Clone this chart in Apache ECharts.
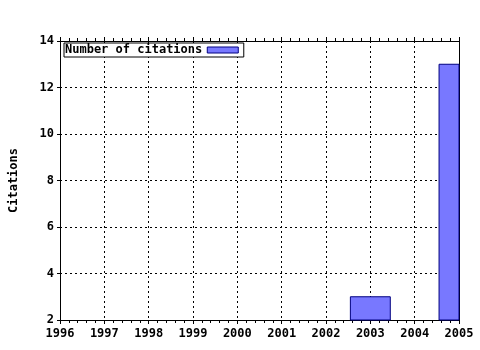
<!DOCTYPE html>
<html><head><meta charset="utf-8">
<script src="https://cdn.jsdelivr.net/npm/echarts@6/dist/echarts.min.js"></script>
<style>html,body{margin:0;padding:0;background:#fff}#c{width:480px;height:350px}</style>
</head><body><div id="c"></div>
<script>
const years = [2003, 2005];
const citations = [3, 13];
const seriesName = 'Number of citations';
const yAxisName = 'Citations';
const font = 'DejaVu Sans Mono';
const barColor = '#7878ff';
const barBorder = '#000080';

const chart = echarts.init(document.getElementById('c'), null, {renderer: 'canvas'});
const xCommon = {
  type: 'value', min: 1996, max: 2005, interval: 1,
  axisLine: {lineStyle: {color: '#000', width: 1}},
  axisTick: {show: true, length: 4, lineStyle: {color: '#000'}},
  minorTick: {show: true, splitNumber: 5, length: 3, lineStyle: {color: '#000'}},
  splitLine: {show: false}
};
chart.setOption({
  animation: false,
  grid: {left: 57, right: 21, top: 41, bottom: 30, containLabel: false},
  legend: {
    show: true, left: 64, top: 43, align: 'right',
    data: [{name: seriesName, icon: 'rect', itemStyle: {color: barColor, borderColor: barBorder, borderWidth: 1}}],
    itemWidth: 31, itemHeight: 6, itemGap: 0,
    backgroundColor: '#fff', borderColor: '#000', borderWidth: 1,
    padding: [1, 5, 1, 1],
    textStyle: {fontFamily: font, fontWeight: 'bold', fontSize: 12, color: '#000'}
  },
  xAxis: [
    Object.assign({}, xCommon, {
      position: 'bottom',
      axisLabel: {fontFamily: font, fontWeight: 'bold', fontSize: 12, color: '#000', margin: 8,
        formatter: v => String(v)},
      splitLine: {show: true, lineStyle: {color: '#000', type: [2, 3], width: 1}}
    }),
    Object.assign({}, xCommon, {position: 'top', axisLabel: {show: false}})
  ],
  yAxis: [{
    type: 'value', min: 2, max: 14, interval: 2,
    name: yAxisName, nameLocation: 'middle', nameGap: 40, nameRotate: 90,
    nameTextStyle: {fontFamily: font, fontWeight: 'bold', fontSize: 12, color: '#000'},
    axisLine: {show: true, lineStyle: {color: '#000'}},
    axisTick: {show: true, length: 3, lineStyle: {color: '#000'}},
    axisLabel: {fontFamily: font, fontWeight: 'bold', fontSize: 12, color: '#000', margin: 6},
    splitLine: {show: true, lineStyle: {color: '#000', type: [2, 3], width: 1}}
  }, {
    type: 'value', min: 2, max: 14, interval: 2, position: 'right',
    axisLine: {show: true, lineStyle: {color: '#000'}},
    axisTick: {show: false}, axisLabel: {show: false}, splitLine: {show: false}
  }],
  series: [{
    name: seriesName, type: 'custom', xAxisIndex: 0, yAxisIndex: 0,
    encode: {x: 0, y: 1},
    itemStyle: {color: barColor, borderColor: barBorder, borderWidth: 1},
    data: years.map((y, i) => [y, citations[i]]),
    renderItem: function (params, api) {
      const x = api.value(0), v = api.value(1);
      const top = api.coord([x, v]);
      const base = api.coord([x, 2]);
      const halfW = api.size([0.45, 0])[0];
      const rect = echarts.graphic.clipRectByRect(
        {x: top[0] - halfW, y: top[1], width: halfW * 2, height: base[1] - top[1]},
        {x: params.coordSys.x, y: params.coordSys.y, width: params.coordSys.width, height: params.coordSys.height});
      return rect && {type: 'rect', shape: rect,
        style: {fill: barColor, stroke: barBorder, lineWidth: 1}};
    }
  }]
});
</script></body></html>
